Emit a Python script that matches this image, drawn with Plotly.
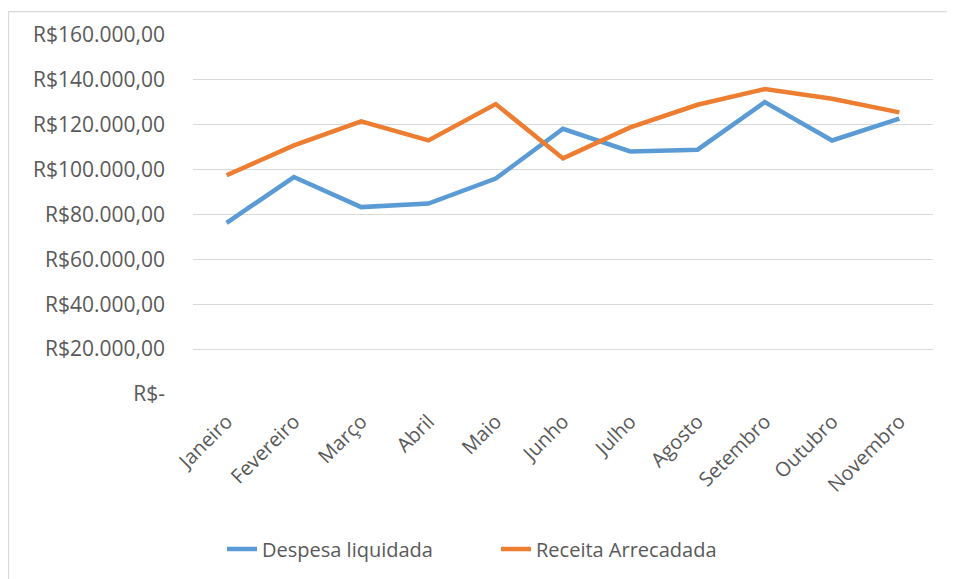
import plotly.graph_objects as go

meses = ["Janeiro", "Fevereiro", "Março", "Abril", "Maio", "Junho",
         "Julho", "Agosto", "Setembro", "Outubro", "Novembro"]
despesa_liquidada = [76300, 96700, 83300, 84900, 96000, 118200,
                     108100, 108900, 130100, 113000, 122700]
receita_arrecadada = [97500, 110800, 121500, 113000, 129200, 105000,
                      118800, 128900, 135900, 131600, 125500]
y_ticks = [0, 20000, 40000, 60000, 80000, 100000, 120000, 140000, 160000]
y_tick_labels = ["R$-", "R$20.000,00", "R$40.000,00", "R$60.000,00", "R$80.000,00",
                 "R$100.000,00", "R$120.000,00", "R$140.000,00", "R$160.000,00"]

FONT = "Open Sans"
TXT = "#595959"
FS = 21

fig = go.Figure()
fig.add_trace(go.Scatter(x=meses, y=despesa_liquidada, mode="lines",
                         name="Despesa liquidada",
                         line=dict(color="#5B9BD5", width=4.5, shape="linear")))
fig.add_trace(go.Scatter(x=meses, y=receita_arrecadada, mode="lines",
                         name="Receita Arrecadada",
                         line=dict(color="#ED7D31", width=4.5, shape="linear")))

# page body adds an 8px offset; work in screen coordinates and subtract it
OFF = 8
W, H = 955 - OFF, 579 - OFF
PL, PR, PT, PB = 193, 933, 35, 395  # plot area in screen pixels
L, R, T, B = PL - OFF, W - (PR - OFF), PT - OFF, H - (PB - OFF)
pw, ph = W - L - R, H - T - B

def px(xs):
    return (xs - OFF - L) / pw

def py(ys):
    return (H - B - (ys - OFF)) / ph

fig.update_layout(
    width=W, height=H,
    margin=dict(l=L, r=R, t=T, b=B, pad=0),
    paper_bgcolor="white", plot_bgcolor="white",
    font=dict(family=FONT, size=FS, color=TXT),
    showlegend=True,
    legend=dict(orientation="h", x=px(222), y=py(549), xanchor="left", yanchor="middle",
                font=dict(family=FONT, size=FS - 1, color=TXT),
                entrywidth=229, entrywidthmode="pixels",
                bgcolor="rgba(0,0,0,0)"),
    xaxis=dict(type="category", tickangle=-45, showgrid=False, zeroline=False,
               showline=False, ticks="", ticklabelstandoff=11,
               tickfont=dict(family=FONT, size=FS - 1, color=TXT),
               range=[-0.5, len(meses) - 0.5]),
    yaxis=dict(range=[0, 160000], tickvals=y_ticks, ticktext=y_tick_labels,
               showgrid=True, gridcolor="#D9D9D9", gridwidth=1.3, zeroline=False,
               showline=False, ticks="", ticklabelstandoff=27,
               tickfont=dict(family=FONT, size=FS, color=TXT)),
    shapes=[
        dict(type="line", xref="paper", yref="paper", x0=px(8.5), x1=px(970),
             y0=py(11.5), y1=py(11.5), line=dict(color="#D9D9D9", width=1.3)),
        dict(type="line", xref="paper", yref="paper", x0=px(8.5), x1=px(8.5),
             y0=py(11.5), y1=py(600), line=dict(color="#D9D9D9", width=1.3)),
    ],
)

fig.write_html("out.html")
